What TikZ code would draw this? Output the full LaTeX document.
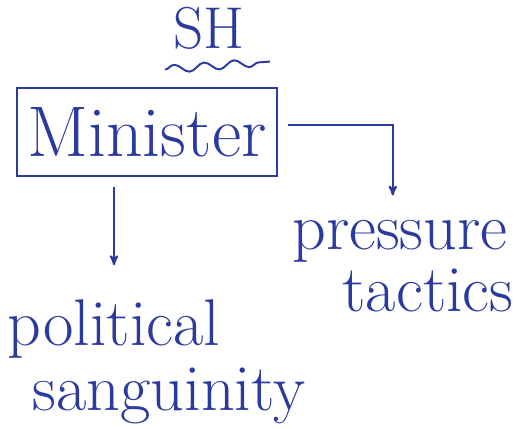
\documentclass[tikz,border=0pt]{standalone}
\usepackage{tikz}
\usetikzlibrary{arrows,positioning,calc,decorations.pathmorphing}
\definecolor{ink}{HTML}{2B3A9E}

\begin{document}
\begin{tikzpicture}[x=0.025cm, y=-0.025cm, >=stealth', semithick,
      word/.style={text=ink,inner sep=0pt,font=\fontsize{47}{52}\selectfont},
      frame/.style={draw=ink,line width=1.6pt,text=ink,minimum width=6.5cm,
        minimum height=2.2cm,font=\fontsize{51}{56}\selectfont}]
      \useasboundingbox (0,0) rectangle (529,429);
      \node[word,font=\fontsize{42}{48}\selectfont] at (209,28) (sh) {SH};
      \node[frame]    at (147,132)  (minister) {Minister};
      \node[word]     at (400,241)  (pressure) {pressure};
      \node[word]     at (428,290)  (tactics) {tactics};
      \node[word]     at (114,329)  (political) {political};
      \node[word]     at (169,396)  (sanguinity) {sanguinity};
      \draw[ink,line width=1.4pt,decorate,
        decoration={snake,amplitude=0.1cm,segment length=0.75cm}]
        ($(sh.south west)+(-8,20)$) -- ($(sh.south east)+(25,12)$);
      \draw[ink,line width=1.4pt,->] ([xshift=0.25cm,yshift=0.18cm]minister.east)
        -| ([xshift=-0.18cm,yshift=0.6cm]pressure.north);
      \draw[ink,line width=1.4pt,->,shorten <=0.25cm,shorten >=0.85cm]
        (political.north |- minister.south) -- (political.north);
    \end{tikzpicture}
\end{document}
